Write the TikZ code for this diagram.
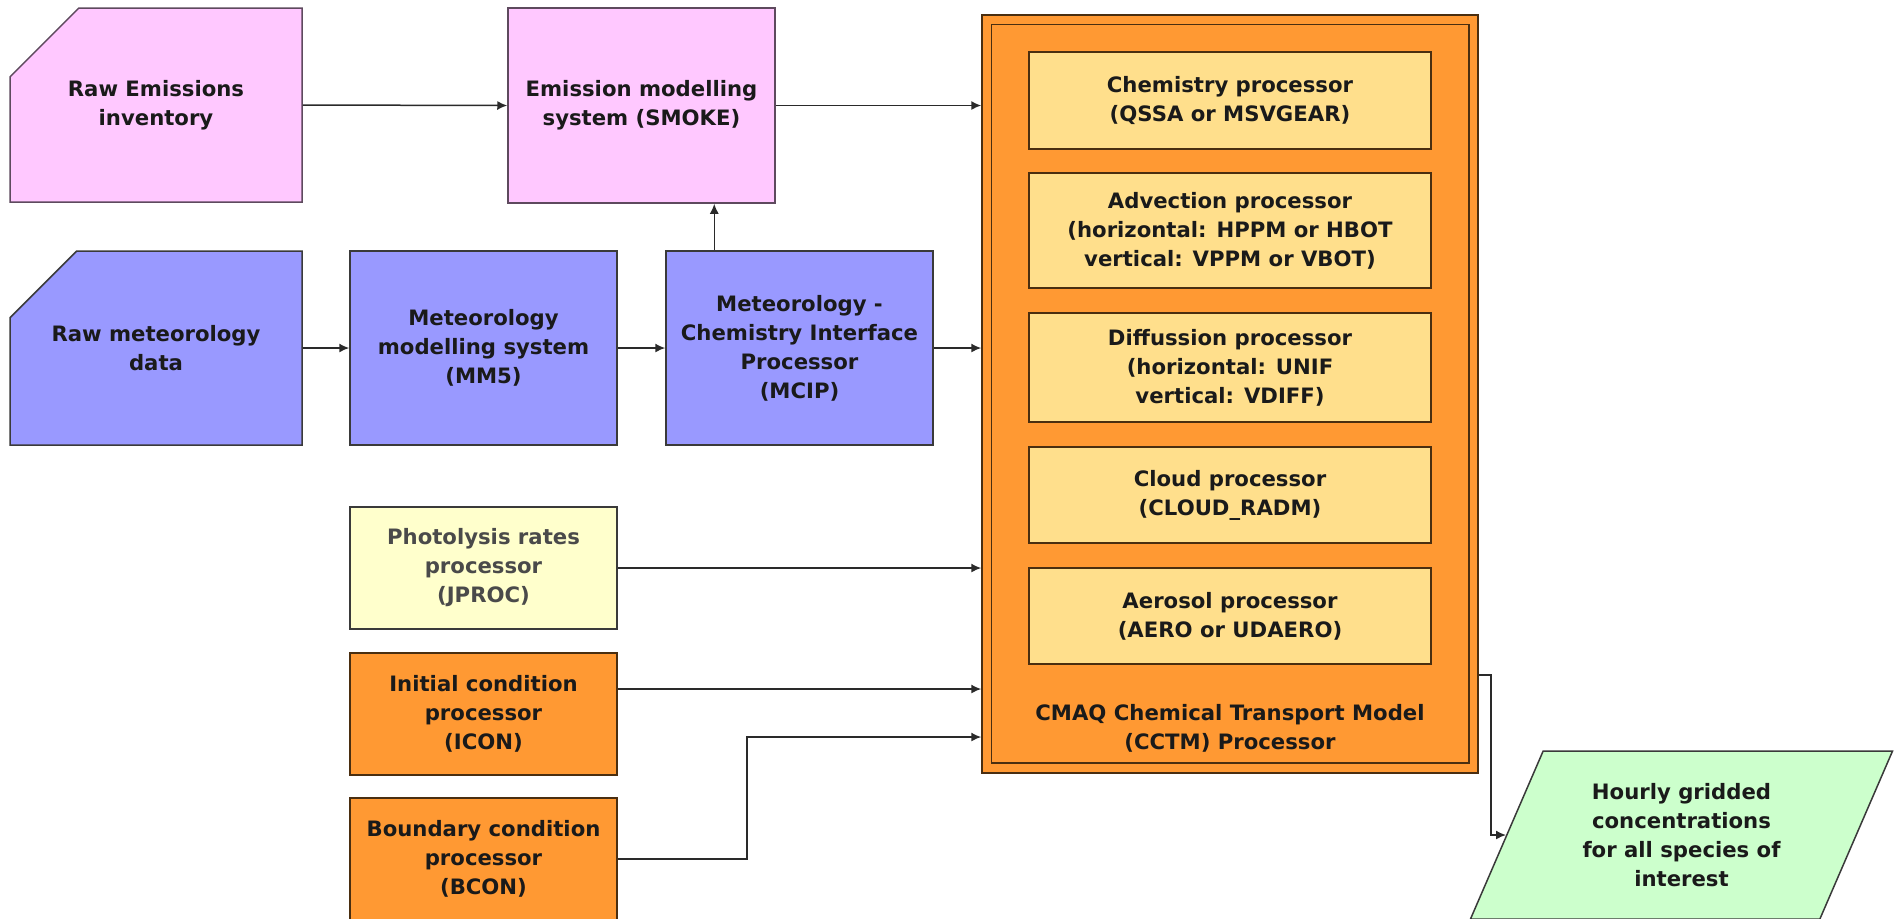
\documentclass[tikz,border=0pt]{standalone}
\usepackage{fontspec}
\setmainfont{DejaVu Sans}
\usetikzlibrary{shapes.misc,shapes.geometric,arrows.meta,calc}
\definecolor{pinkfill}{HTML}{FFC8FF}
\definecolor{bluefill}{HTML}{9999FF}
\definecolor{orangefill}{HTML}{FF9933}
\definecolor{yellowfill}{HTML}{FFDF8C}
\definecolor{palefill}{HTML}{FFFFCC}
\definecolor{greenfill}{HTML}{CCFFCC}
\definecolor{bordcol}{HTML}{3A3A3A}
\definecolor{pinkbord}{HTML}{5E4A5E}
\definecolor{orbord}{HTML}{4A2E10}
\definecolor{linecol}{HTML}{2A2A2A}
\definecolor{txt}{HTML}{1A1A1A}
\definecolor{graytxt}{HTML}{4A4A4A}
\tikzset{
  box/.style={draw=bordcol, line width=0.75pt, align=center, inner sep=0pt,
    text=txt, font=\fontsize{10.6}{14.5}\selectfont\bfseries},
  sidebox/.style={box, minimum width=133.5pt, minimum height=61pt},
  procbox/.style={box, draw=orbord, fill=yellowfill, minimum width=201pt},
  arr/.style={draw=linecol, line width=0.75pt, -{Latex[length=5pt,width=4.5pt]}},
  lbl/.style={align=center, inner sep=0pt, text=txt, font=\fontsize{10.6}{14.5}\selectfont\bfseries}
}
\begin{document}
\begin{tikzpicture}[x=0.5pt,y=-0.5pt]
\useasboundingbox (0,0) rectangle (1900,918);
\fill[white] (0,0) rectangle (1900,918);
\clip (0,0) rectangle (1900,918);

% top row
\node[box, draw=pinkbord, fill=pinkfill, chamfered rectangle, chamfered rectangle corners=north west,
  chamfered rectangle xsep=21.5pt, chamfered rectangle ysep=22pt,
  minimum width=146pt, minimum height=97pt] (rawem) at (156,105) {Raw Emissions\\inventory};
\node[box, draw=pinkbord, fill=pinkfill, minimum width=133.5pt, minimum height=97.5pt] (smoke) at (641.5,105.5) {Emission modelling\\system (SMOKE)};

% meteorology row
\node[box, fill=bluefill, chamfered rectangle, chamfered rectangle corners=north west,
  chamfered rectangle xsep=21.5pt, chamfered rectangle ysep=22pt,
  minimum width=146pt, minimum height=97pt] (rawmet) at (156,348) {Raw meteorology\\data};
\node[box, fill=bluefill, minimum width=133.5pt, minimum height=97pt] (mm5) at (483.5,348) {Meteorology\\modelling system\\(MM5)};
\node[box, fill=bluefill, minimum width=133.5pt, minimum height=97pt] (mcip) at (799.5,348) {Meteorology -\\Chemistry Interface\\Processor\\(MCIP)};

% side processors
\node[sidebox, fill=palefill, text=graytxt] (jproc) at (483.5,568) {Photolysis rates\\processor\\(JPROC)};
\node[sidebox, draw=orbord, fill=orangefill] (icon) at (483.5,714) {Initial condition\\processor\\(ICON)};
\node[sidebox, draw=orbord, fill=orangefill] (bcon) at (483.5,859) {Boundary condition\\processor\\(BCON)};

% CCTM
\node[draw=orbord, line width=0.75pt, fill=orangefill, minimum width=248pt, minimum height=379pt, inner sep=0pt] (cctm) at (1230,394) {};
\draw[orbord, line width=0.75pt] ([shift={(5pt,-5pt)}]cctm.north west) rectangle ([shift={(-5pt,5.5pt)}]cctm.south east);
\node[procbox, minimum height=48.5pt] (chem) at (1230,100.5) {Chemistry processor\\(QSSA or MSVGEAR)};
\node[procbox, minimum height=57.5pt] (adv) at (1230,230.5) {Advection processor\\(horizontal: HPPM or HBOT\\vertical: VPPM or VBOT)};
\node[procbox, minimum height=54.5pt] (diff) at (1230,367.5) {Diffussion processor\\(horizontal: UNIF\\vertical: VDIFF)};
\node[procbox, minimum height=48pt] (cloud) at (1230,495) {Cloud processor\\(CLOUD\_RADM)};
\node[procbox, minimum height=48pt] (aero) at (1230,616) {Aerosol processor\\(AERO or UDAERO)};
\node[lbl] (cctmlbl) at (1230,728) {CMAQ Chemical Transport Model\\(CCTM) Processor};

% output
\node[box, fill=greenfill, trapezium, trapezium left angle=63.3, trapezium right angle=116.7,
  trapezium stretches=true, minimum width=211.5pt, minimum height=84pt] (out) at (1681.5,835)
  {Hourly gridded\\concentrations\\for all species of\\interest};

% connectors
\draw[arr] (rawem.east) -- (smoke.west);
\draw[arr] (smoke.east) -- (smoke.east -| cctm.west);
\draw[arr] (rawmet.east) -- (mm5.west);
\draw[arr] (mm5.east) -- (mcip.west);
\draw[arr] (mcip.east) -- (mcip.east -| cctm.west);
\coordinate (mcipup) at ([xshift=24.5pt]mcip.north west);
\draw[arr] (mcipup) -- (mcipup |- smoke.south);
\draw[arr] (jproc.east) -- (jproc.east -| cctm.west);
\coordinate (icout) at (icon.east |- 0,689);
\draw[arr] (icout) -- (icout -| cctm.west);
\coordinate (bcin) at (cctm.west |- 0,737);
\draw[arr] (bcon.east) -- ++(129,0) |- (bcin);
\coordinate (cout) at (cctm.east |- 0,675);
\draw[arr] (cout) -- ++(12,0) |- (out.west);
\end{tikzpicture}
\end{document}
